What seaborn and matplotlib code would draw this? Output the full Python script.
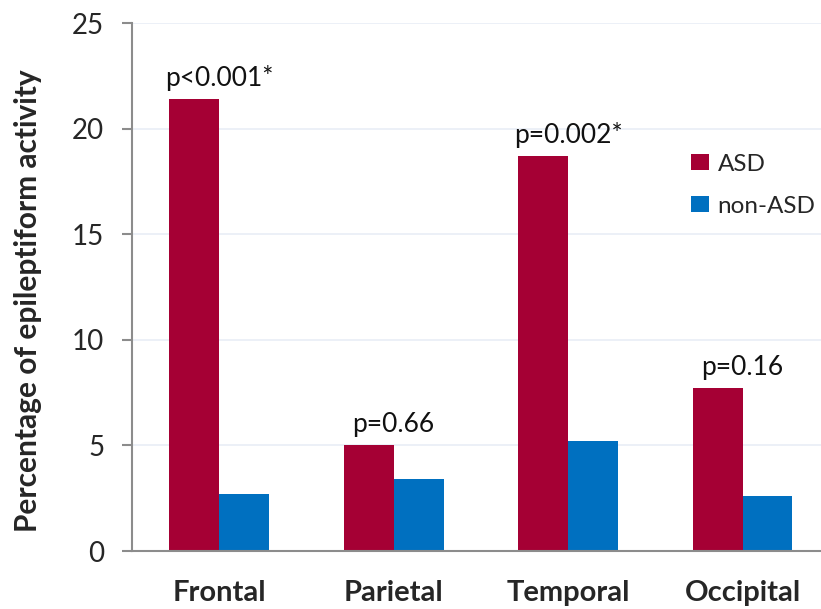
import matplotlib
matplotlib.use("Agg")
import matplotlib.pyplot as plt
import seaborn as sns
import pandas as pd

regions = ["Frontal", "Parietal", "Temporal", "Occipital"]
asd = [21.4, 5.0, 18.7, 7.7]
non_asd = [2.7, 3.4, 5.2, 2.6]
p_labels = ["p<0.001*", "p=0.66", "p=0.002*", "p=0.16"]
groups = ["ASD", "non-ASD"]

df = pd.DataFrame({
    "region": regions * 2,
    "value": asd + non_asd,
    "group": [groups[0]] * 4 + [groups[1]] * 4,
})

sns.set_style("white")
plt.rcParams["font.family"] = ["Lato", "DejaVu Sans"]

fig = plt.figure(figsize=(8.21, 6.09), dpi=100)
ax = fig.add_axes([132 / 821, 58 / 609, 689 / 821, 528 / 609])

sns.barplot(data=df, x="region", y="value", hue="group", order=regions,
            hue_order=groups, palette=["#A50034", "#0070C0"],
            width=0.573, gap=0, linewidth=0, saturation=1, ax=ax)

ax.set_xlim(-0.5, 3.45)
ax.set_ylim(0, 25)
ax.set_yticks([0, 5, 10, 15, 20, 25])
for v in [5, 10, 15, 20, 25]:
    ax.axhline(v, color="#e9eef6", lw=1.2, zorder=0)

for i, (h, t) in enumerate(zip(asd, p_labels)):
    ax.text(i, h + 0.62, t, ha="center", va="baseline", fontsize=19, color="#111111")

for s in ["top", "right"]:
    ax.spines[s].set_visible(False)
ax.spines["left"].set_color("#8c8c8c")
ax.spines["bottom"].set_color("#8c8c8c")
ax.spines["left"].set_linewidth(1.5)
ax.spines["bottom"].set_linewidth(1.5)

ax.tick_params(axis="y", direction="out", length=7, width=1.5, color="#8c8c8c",
               labelsize=20, pad=13, left=True)
ax.tick_params(axis="x", length=0, labelsize=21, pad=21)
for lab in ax.get_xticklabels():
    lab.set_fontweight("bold")

ax.set_xlabel("")
ax.set_ylabel("Percentage of epileptiform activity", fontsize=21.5, fontweight="bold")
ax.yaxis.set_label_coords(-0.131, 0.475)

ax.legend(loc="upper left", bbox_to_anchor=(669 / 821, 1 - 132 / 609),
          bbox_transform=fig.transFigure, frameon=False, fontsize=17.5,
          handlelength=0.75, handleheight=0.65, handletextpad=0.35, labelspacing=0.85)

fig.savefig("out.png", dpi=100)
